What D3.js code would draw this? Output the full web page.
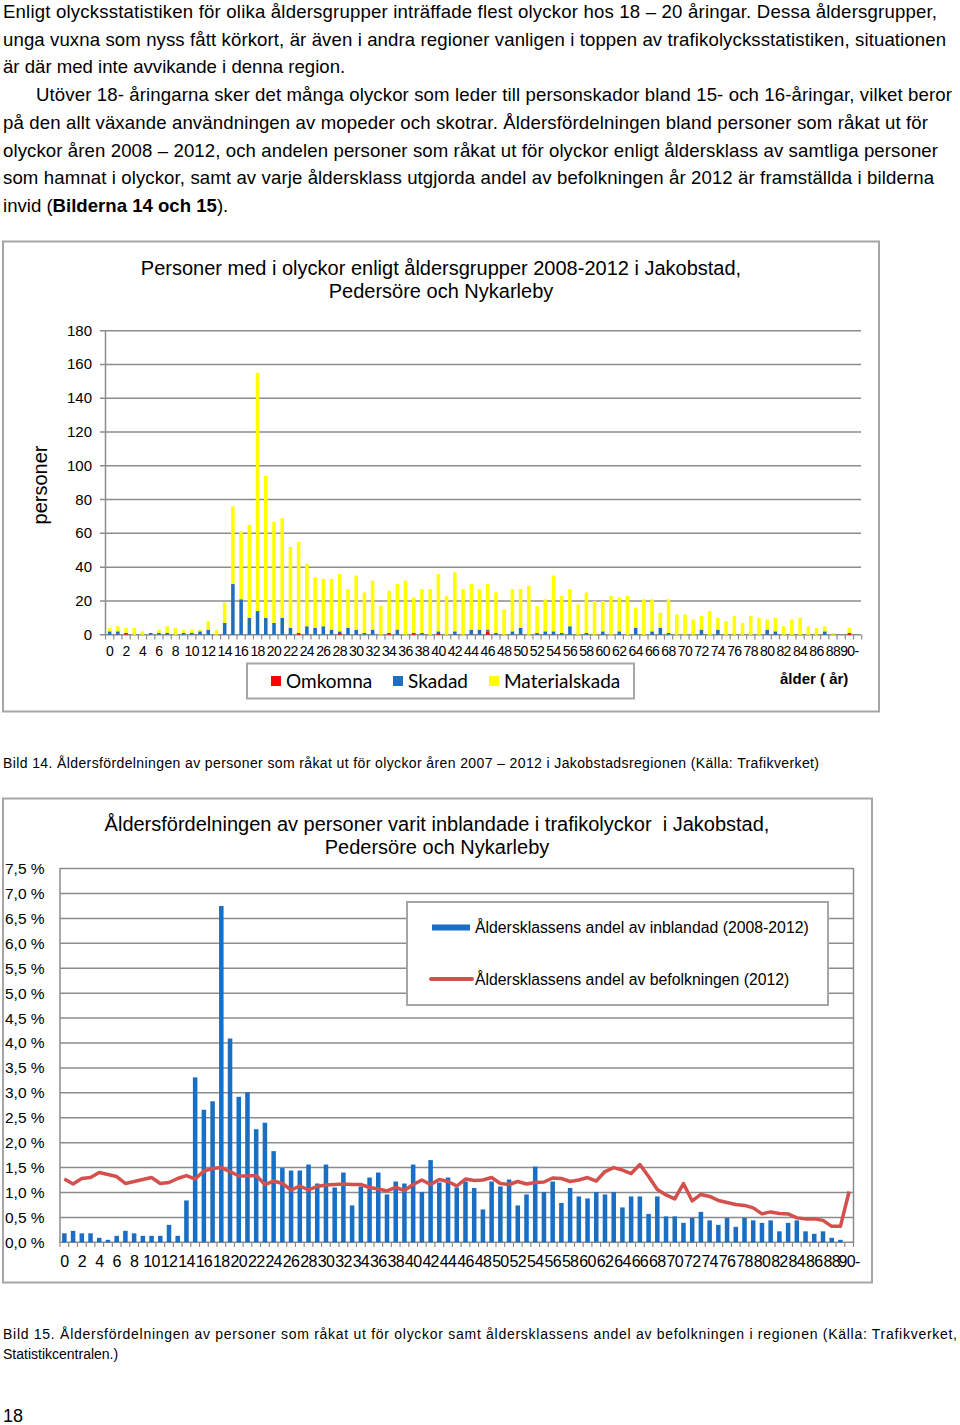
<!DOCTYPE html>
<html>
<head>
<meta charset="utf-8">
<script src="https://cdn.jsdelivr.net/npm/d3@7"></script>
<style>
  body { margin: 0; background: #fff; }
  svg text { font-family: "Liberation Sans", Arial, sans-serif; fill: #000; }
</style>
</head>
<body>
<div class="page"></div>
<script>
// alder 0 .. 90-
var ageLabels = ["0","1","2","3","4","5","6","7","8","9","10","11","12","13","14","15","16","17","18","19",
  "20","21","22","23","24","25","26","27","28","29","30","31","32","33","34","35","36","37","38","39",
  "40","41","42","43","44","45","46","47","48","49","50","51","52","53","54","55","56","57","58","59",
  "60","61","62","63","64","65","66","67","68","69","70","71","72","73","74","75","76","77","78","79",
  "80","81","82","83","84","85","86","87","88","89","90-"];

// Bild 14, antal personer
var omkomna = [0,0,1,0,0,0,0,0,0,0, 0,0,0,0,0,0,0,0,0,0, 0,0,0,1,0,0,0,0,1,0,
  0,0,0,0,1,0,0,1,0,0, 1,0,0,0,0,0,2,0,0,0, 0,0,0,0,0,0,0,0,0,0,
  0,0,0,0,0,0,0,0,0,0, 0,0,0,0,0,0,0,0,0,0, 0,0,0,0,0,0,0,0,0,0, 1];
var skadad = [2,2,0,0,0,1,1,1,0,1, 1,2,3,0,7,30,21,10,14,10, 7,10,4,0,5,4,5,3,1,4,
  3,1,3,0,0,3,0,0,1,0, 1,0,2,0,3,3,1,1,0,2, 4,0,1,2,2,1,5,0,1,0,
  2,0,2,0,4,0,2,4,1,0, 0,0,3,0,3,0,0,0,0,0, 3,2,0,0,0,0,0,2,0,0, 0];
var materialskada = [2,3,3,4,2,0,2,4,4,2, 2,1,5,3,12,46,40,55,141,84, 60,59,48,54,37,30,28,30,34,23,
  32,24,29,17,25,27,32,21,26,27, 34,23,35,27,27,24,27,24,15,25, 23,29,16,19,33,22,22,18,24,20,
  18,23,20,23,12,21,19,9,20,12, 12,9,8,14,7,8,11,7,11,10, 6,8,5,9,10,5,4,3,1,0, 3];
var series1 = ["Omkomna", "Skadad", "Materialskada"];
var yTicks1 = [0,20,40,60,80,100,120,140,160,180];

// Bild 15, andel i procent
var andelInblandad = [0.18,0.23,0.18,0.18,0.09,0.05,0.13,0.23,0.18,0.13, 0.13,0.13,0.35,0.13,0.84,3.31,2.66,2.83,6.75,4.09,
  2.92,3.01,2.27,2.40,1.83,1.49,1.44,1.44,1.56,1.18, 1.56,1.10,1.40,0.74,1.12,1.30,1.40,0.96,1.22,1.18,
  1.56,1.01,1.65,1.20,1.30,1.10,1.22,1.09,0.66,1.22, 1.12,1.26,0.74,0.96,1.52,1.01,1.22,0.79,1.09,0.92,
  0.88,1.01,0.96,1.01,0.70,0.92,0.92,0.57,0.92,0.52, 0.52,0.39,0.49,0.61,0.44,0.35,0.49,0.31,0.49,0.44,
  0.39,0.44,0.22,0.39,0.44,0.22,0.17,0.22,0.09,0.05, 0];
var andelBefolkning = [1.27,1.17,1.28,1.30,1.40,1.36,1.32,1.18,1.22,1.26, 1.30,1.18,1.20,1.28,1.34,1.27,1.43,1.48,1.50,1.42,
  1.33,1.33,1.34,1.16,1.23,1.18,1.05,1.13,1.05,1.12, 1.15,1.16,1.17,1.16,1.16,1.10,1.07,1.03,1.10,1.04,
  1.16,1.25,1.16,1.26,1.22,1.13,1.27,1.24,1.25,1.30, 1.18,1.16,1.22,1.17,1.20,1.21,1.29,1.28,1.22,1.25,
  1.30,1.23,1.42,1.50,1.45,1.38,1.56,1.32,1.06,0.95, 0.87,1.18,0.83,0.96,0.92,0.84,0.80,0.76,0.74,0.69,
  0.57,0.61,0.58,0.57,0.49,0.47,0.47,0.44,0.32,0.32, 1.02];
var series2 = ["Åldersklassens andel av inblandad (2008-2012)", "Åldersklassens andel av befolkningen (2012)"];
var yTicks2 = [0,0.5,1,1.5,2,2.5,3,3.5,4,4.5,5,5.5,6,6.5,7,7.5];

var paragraph = [
  {t: "Enligt olycksstatistiken för olika åldersgrupper inträffade flest olyckor hos 18 – 20 åringar. Dessa åldersgrupper,", x: 3, w: 934},
  {t: "unga vuxna som nyss fått körkort, är även i andra regioner vanligen i toppen av trafikolycksstatistiken, situationen", x: 3, w: 943},
  {t: "är där med inte avvikande i denna region.", x: 3},
  {t: "Utöver 18- åringarna sker det många olyckor som leder till personskador bland 15- och 16-åringar, vilket beror", x: 36, w: 916},
  {t: "på den allt växande användningen av mopeder och skotrar. Åldersfördelningen bland personer som råkat ut för", x: 3, w: 925},
  {t: "olyckor åren 2008 – 2012, och andelen personer som råkat ut för olyckor enligt åldersklass av samtliga personer", x: 3, w: 935},
  {t: "som hamnat i olyckor, samt av varje åldersklass utgjorda andel av befolkningen år 2012 är framställda i bilderna", x: 3, w: 931}
];

var svg = d3.select("div.page")
  .append("svg")
  .attr("width", 960)
  .attr("height", 1425);

var gray = "#8c8c8c";
var frame = "#a6a6a6";

/////////////////// text ///////////////////
svg.selectAll("text.par")
  .data(paragraph)
  .enter()
  .append("text")
  .attr("class", "par")
  .attr("x", function(d) { return d.x; })
  .attr("y", function(d, i) { return 18 + i * 27.7; })
  .attr("textLength", function(d) { return d.w ? d.w : null; })
  .attr("lengthAdjust", "spacing")
  .style("font-size", "18.6px")
  .text(function(d) { return d.t; });

var last = svg.append("text")
  .attr("x", 3)
  .attr("y", 18 + 7 * 27.7)
  .style("font-size", "18.6px");
last.append("tspan").text("invid (");
last.append("tspan").style("font-weight", "bold").text("Bilderna 14 och 15");
last.append("tspan").text(").");

/////////////////// Bild 14 ///////////////////
svg.append("rect")
  .attr("x", 3).attr("y", 241.5).attr("width", 876).attr("height", 470)
  .attr("fill", "none").attr("stroke", frame).attr("stroke-width", 2);

svg.append("text").attr("x", 441).attr("y", 275).attr("text-anchor", "middle")
  .style("font-size", "20px")
  .text("Personer med i olyckor enligt åldersgrupper 2008-2012 i Jakobstad,");
svg.append("text").attr("x", 441).attr("y", 298).attr("text-anchor", "middle")
  .style("font-size", "20px")
  .text("Pedersöre och Nykarleby");

var x1 = d3.scaleBand().domain(ageLabels).range([105.5, 853.5]).paddingInner(0.57).paddingOuter(0.285);
var y1 = d3.scaleLinear().domain([0, 180]).range([634.7, 330.7]);

svg.selectAll("line.grid1")
  .data(yTicks1)
  .enter()
  .append("line")
  .attr("x1", 100).attr("x2", 861)
  .attr("y1", function(d) { return y1(d); })
  .attr("y2", function(d) { return y1(d); })
  .attr("stroke", gray).attr("stroke-width", 1.5);

svg.selectAll("text.ylab1")
  .data(yTicks1)
  .enter()
  .append("text")
  .attr("x", 92)
  .attr("y", function(d) { return y1(d) + 5; })
  .attr("text-anchor", "end")
  .style("font-size", "15px")
  .text(function(d) { return d; });

svg.append("line").attr("x1", 105.5).attr("x2", 105.5).attr("y1", 330).attr("y2", 635)
  .attr("stroke", gray).attr("stroke-width", 1.5);

var step1 = x1.step();
svg.selectAll("line.xtick1")
  .data(d3.range(ageLabels.length + 2))
  .enter()
  .append("line")
  .attr("x1", function(i) { return 105.5 + i * step1; })
  .attr("x2", function(i) { return 105.5 + i * step1; })
  .attr("y1", 634.7).attr("y2", 639.5)
  .attr("stroke", gray).attr("stroke-width", 1.2);

var rows1 = ageLabels.map(function(a, i) {
  return {age: a, Omkomna: omkomna[i], Skadad: skadad[i], Materialskada: materialskada[i]};
});
var stack1 = d3.stack().keys(series1)(rows1);
var colors1 = {Omkomna: "#ff0000", Skadad: "#1f6fc1", Materialskada: "#ffff00"};

svg.selectAll("g.layer")
  .data(stack1)
  .enter()
  .append("g")
  .attr("fill", function(d) { return colors1[d.key]; })
  .selectAll("rect")
  .data(function(d) { return d; })
  .enter()
  .append("rect")
  .attr("x", function(d) { return x1(d.data.age); })
  .attr("width", x1.bandwidth())
  .attr("y", function(d) { return y1(d[1]); })
  .attr("height", function(d) { return y1(d[0]) - y1(d[1]); });

svg.selectAll("text.xlab1")
  .data(ageLabels.filter(function(d, i) { return i % 2 == 0; }))
  .enter()
  .append("text")
  .attr("x", function(d) { return x1(d) + x1.bandwidth() / 2; })
  .attr("y", 656)
  .attr("text-anchor", "middle")
  .style("font-size", "14px")
  .style("letter-spacing", "-0.6px")
  .text(function(d) { return d; });

svg.append("text")
  .attr("transform", "translate(47,485) rotate(-90)")
  .attr("text-anchor", "middle")
  .style("font-size", "20px")
  .text("personer");

// legend
svg.append("rect").attr("x", 247).attr("y", 663.5).attr("width", 387).attr("height", 35)
  .attr("fill", "#fff").attr("stroke", frame).attr("stroke-width", 2);
var leg1 = [{k: "Omkomna", x: 271}, {k: "Skadad", x: 393}, {k: "Materialskada", x: 489}];
svg.selectAll("rect.leg1")
  .data(leg1)
  .enter()
  .append("rect")
  .attr("x", function(d) { return d.x; })
  .attr("y", 676).attr("width", 10).attr("height", 10)
  .attr("fill", function(d) { return colors1[d.k]; });
svg.selectAll("text.leg1")
  .data(leg1)
  .enter()
  .append("text")
  .attr("x", function(d) { return d.x + 15; })
  .attr("y", 688)
  .style("font-family", "Lato, 'Open Sans', sans-serif")
  .style("font-size", "19px")
  .text(function(d) { return d.k; });

svg.append("text").attr("x", 780).attr("y", 684)
  .style("font-size", "15px").style("font-weight", "bold")
  .text("ålder ( år)");

svg.append("text").attr("x", 3).attr("y", 768).attr("textLength", 816).attr("lengthAdjust", "spacing")
  .style("font-size", "14px")
  .text("Bild 14. Åldersfördelningen av personer som råkat ut för olyckor åren 2007 – 2012 i Jakobstadsregionen (Källa: Trafikverket)");

/////////////////// Bild 15 ///////////////////
svg.append("rect")
  .attr("x", 3).attr("y", 798.5).attr("width", 869).attr("height", 484)
  .attr("fill", "none").attr("stroke", frame).attr("stroke-width", 2);

svg.append("text").attr("x", 437).attr("y", 831).attr("text-anchor", "middle")
  .attr("xml:space", "preserve")
  .style("white-space", "pre")
  .style("font-size", "20px")
  .text("Åldersfördelningen av personer varit inblandade i trafikolyckor  i Jakobstad,");
svg.append("text").attr("x", 437).attr("y", 854).attr("text-anchor", "middle")
  .style("font-size", "20px")
  .text("Pedersöre och Nykarleby");

var x2 = d3.scaleBand().domain(ageLabels).range([60, 853.5]).paddingInner(0.48).paddingOuter(0.24);
var y2 = d3.scaleLinear().domain([0, 7.5]).range([1242.3, 868.6]);

svg.selectAll("line.grid2")
  .data(yTicks2)
  .enter()
  .append("line")
  .attr("x1", 60).attr("x2", 853.5)
  .attr("y1", function(d) { return y2(d); })
  .attr("y2", function(d) { return y2(d); })
  .attr("stroke", gray).attr("stroke-width", 1.5);

svg.selectAll("text.ylab2")
  .data(yTicks2)
  .enter()
  .append("text")
  .attr("x", 5)
  .attr("y", function(d) { return y2(d) + 5.5; })
  .style("font-size", "15.5px")
  .text(function(d) { return d3.format(".1f")(d).replace(".", ",") + " %"; });

svg.append("line").attr("x1", 60).attr("x2", 60).attr("y1", 868).attr("y2", 1243)
  .attr("stroke", gray).attr("stroke-width", 1.5);
svg.append("line").attr("x1", 853.5).attr("x2", 853.5).attr("y1", 868).attr("y2", 1243)
  .attr("stroke", gray).attr("stroke-width", 1.5);

var step2 = x2.step();
svg.selectAll("line.xtick2")
  .data(d3.range(ageLabels.length + 1))
  .enter()
  .append("line")
  .attr("x1", function(i) { return 60 + i * step2; })
  .attr("x2", function(i) { return 60 + i * step2; })
  .attr("y1", 1242.3).attr("y2", 1247)
  .attr("stroke", gray).attr("stroke-width", 1.2);

svg.selectAll("rect.bar2")
  .data(andelInblandad)
  .enter()
  .append("rect")
  .attr("x", function(d, i) { return x2(ageLabels[i]); })
  .attr("width", x2.bandwidth())
  .attr("y", function(d) { return y2(d); })
  .attr("height", function(d) { return y2(0) - y2(d); })
  .attr("fill", "#1a6fc4");

var line2 = d3.line()
  .x(function(d, i) { return x2(ageLabels[i]) + x2.bandwidth() / 2; })
  .y(function(d) { return y2(d); });

svg.append("path")
  .datum(andelBefolkning)
  .attr("d", line2)
  .attr("fill", "none")
  .attr("stroke", "#d4504d")
  .attr("stroke-width", 3.5)
  .attr("stroke-linejoin", "round");

svg.selectAll("text.xlab2")
  .data(ageLabels.filter(function(d, i) { return i % 2 == 0; }))
  .enter()
  .append("text")
  .attr("x", function(d) { return x2(d) + x2.bandwidth() / 2; })
  .attr("y", 1267)
  .attr("text-anchor", "middle")
  .style("font-size", "16px")
  .style("letter-spacing", "-0.7px")
  .text(function(d) { return d; });

// legend
svg.append("rect").attr("x", 407).attr("y", 902).attr("width", 421).attr("height", 103)
  .attr("fill", "#fff").attr("stroke", frame).attr("stroke-width", 2);
svg.append("rect").attr("x", 432).attr("y", 924.5).attr("width", 38).attr("height", 6).attr("fill", "#1a6fc4");
svg.append("line").attr("x1", 431).attr("x2", 472).attr("y1", 979).attr("y2", 979)
  .attr("stroke", "#d4504d").attr("stroke-width", 4).attr("stroke-linecap", "round");
svg.selectAll("text.leg2")
  .data(series2)
  .enter()
  .append("text")
  .attr("x", 475)
  .attr("y", function(d, i) { return 933 + i * 52; })
  .style("font-size", "15.8px")
  .text(function(d) { return d; });

svg.append("text").attr("x", 3).attr("y", 1339).attr("textLength", 954).attr("lengthAdjust", "spacing")
  .style("font-size", "14px")
  .text("Bild 15. Åldersfördelningen av personer som råkat ut för olyckor samt åldersklassens andel av befolkningen i regionen (Källa: Trafikverket,");
svg.append("text").attr("x", 3).attr("y", 1359)
  .style("font-size", "14px")
  .text("Statistikcentralen.)");

svg.append("text").attr("x", 3).attr("y", 1422)
  .style("font-size", "18px")
  .text("18");
</script>
</body>
</html>
